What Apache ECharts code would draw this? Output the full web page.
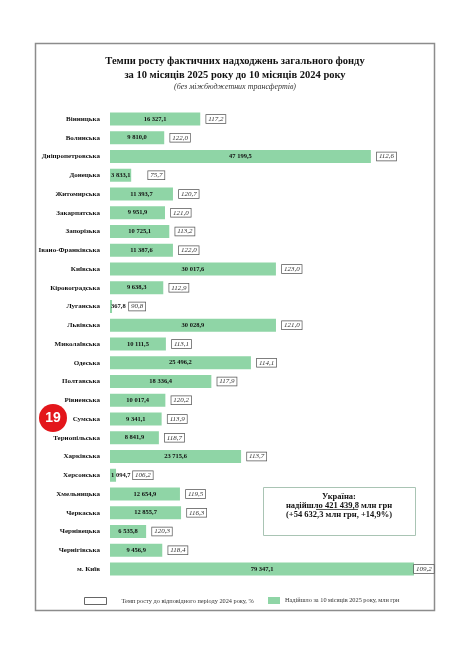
<!DOCTYPE html>
<html>
<head>
<meta charset="utf-8">
<script src="https://cdn.jsdelivr.net/npm/echarts@6/dist/echarts.min.js"></script>
<style>
  html, body {margin: 0; padding: 0; background: #fff;}
  #main {width: 468px; height: 663px;}
</style>
</head>
<body>
<div id="main"></div>
<script>
// data
const regions = [
  'Вінницька', 'Волинська', 'Дніпропетровська', 'Донецька', 'Житомирська',
  'Закарпатська', 'Запорізька', 'Івано-Франківська', 'Київська',
  'Кіровоградська', 'Луганська', 'Львівська', 'Миколаївська', 'Одеська',
  'Полтавська', 'Рівненська', 'Сумська', 'Тернопільська', 'Харківська',
  'Херсонська', 'Хмельницька', 'Черкаська', 'Чернівецька', 'Чернігівська',
  'м. Київ'
];
const income = [
  16327.1, 9810.0, 47199.5, 3833.1, 11393.7, 9951.9, 10725.1, 11387.6,
  30017.6, 9638.3, 367.8, 30028.9, 10111.5, 25496.2, 18336.4, 10017.4,
  9341.1, 8841.9, 23715.6, 1094.7, 12654.9, 12855.7, 6535.8, 9456.9, 79347.1
];
const growth = [
  117.2, 122.0, 112.6, 75.7, 120.7, 121.0, 113.2, 122.0, 123.0, 112.9, 90.8,
  121.0, 113.1, 114.1, 117.9, 120.2, 113.9, 118.7, 113.7, 106.2, 119.5,
  116.3, 120.3, 118.4, 109.2
];
const totalIncome = 421439.8, totalDelta = 54632.3, totalGrowth = 14.9;

const xMax = 55000;   // м. Київ is cut at the edge, like in the original
const smallBar = 4000;
const serif = '"Liberation Serif", "DejaVu Serif", serif';
const green = '#8fd5a6';
const nameRate = 'Темп росту до відповідного періоду 2024 року, %';
const nameIncome = 'Надійшло за 10 місяців 2025 року, млн грн';

function fmtNum(v) {
  let [i, d] = v.toFixed(1).split('.');
  i = i.replace(/\B(?=(\d{3})+(?!\d))/g, ' ');
  return i + ',' + d;
}

// short bars: value text starts at the bar's left edge
const incomeData = income.map(function(v) {
  return v < smallBar ?
      {value: v, label: {position: 'insideLeft', distance: 1}} :
      {value: v};
});

// invisible copy of the bars that carries the growth-rate boxes
const rateData = income.map(function(v) {
  let dist = 6;
  if (v < smallBar) dist = 17;
  if (v > xMax) dist = 0;
  return {value: v, label: {distance: dist}};
});

let chart = echarts.init(document.getElementById('main'));

let option = {
  backgroundColor: '#fff',
  animation: false,
  title: {
    text: 'Темпи росту фактичних надходжень загального фонду\nза 10 місяців 2025 року до 10 місяців 2024 року',
    subtext: '(без міжбюджетних трансфертів)',
    left: 230,
    top: 50,
    textAlign: 'center',
    itemGap: 1,
    textStyle: {
      fontFamily: serif, fontSize: 10.5, fontWeight: 'bold',
      color: '#111', lineHeight: 13.5
    },
    subtextStyle: {
      fontFamily: serif, fontSize: 8, fontStyle: 'italic', color: '#333'
    }
  },
  legend: [
    {
      data: [{
        name: nameRate,
        icon: 'rect',
        itemStyle: {color: '#fff', borderColor: '#666', borderWidth: 1}
      }],
      left: 79, top: 592, itemWidth: 22, itemHeight: 7,
      selectedMode: false,
      textStyle: {fontFamily: serif, fontSize: 6.3, color: '#333',
                  padding: [0, 0, 0, 10]}
    },
    {
      data: [{name: nameIncome, icon: 'rect'}],
      left: 263, top: 592, itemWidth: 12, itemHeight: 7,
      selectedMode: false,
      textStyle: {fontFamily: serif, fontSize: 6.3, color: '#333'}
    }
  ],
  grid: {left: 110, right: 54, top: 109.6, bottom: 84.6},
  xAxis: {type: 'value', min: 0, max: xMax, show: false},
  yAxis: {
    type: 'category',
    data: regions,
    inverse: true,
    axisLine: {show: false},
    axisTick: {show: false},
    axisLabel: {
      margin: 10, fontFamily: serif, fontSize: 7, fontWeight: 'bold',
      color: '#111'
    }
  },
  series: [
    {
      name: nameIncome,
      type: 'bar',
      data: incomeData,
      barWidth: 13,
      itemStyle: {color: green},
      label: {
        show: true, position: 'inside', color: '#111',
        fontFamily: serif, fontSize: 6.5, fontWeight: 'bold',
        formatter: function(p) { return fmtNum(p.value); }
      },
      z: 2
    },
    {
      name: nameRate,
      type: 'bar',
      data: rateData,
      barWidth: 13,
      barGap: '-100%',
      itemStyle: {color: 'rgba(0,0,0,0)'},
      label: {
        show: true, position: 'right',
        fontFamily: serif, fontSize: 7, fontStyle: 'italic', color: '#333',
        backgroundColor: '#fff', borderColor: '#555', borderWidth: 0.7,
        padding: [1, 2, 0, 2],
        formatter: function(p) { return fmtNum(growth[p.dataIndex]); }
      },
      silent: true,
      z: 3
    }
  ],
  graphic: [
    // outer frame
    {
      type: 'rect', left: 33, top: 41, silent: true,
      shape: {width: 399, height: 567},
      style: {fill: 'none', stroke: '#8c8c8c', lineWidth: 1.5}
    },
    // Ukraine total
    {
      type: 'rect', left: 263, top: 487, silent: true,
      shape: {width: 152, height: 48},
      style: {fill: '#fff', stroke: '#a9c4b4', lineWidth: 1}
    },
    {
      type: 'text', silent: true, x: 339, y: 492,
      style: {
        text: 'Україна:\nнадійшло ' + fmtNum(totalIncome) + ' млн грн\n(+' +
            fmtNum(totalDelta) + ' млн грн, +' +
            totalGrowth.toFixed(1).replace('.', ',') + '%)',
        align: 'center', verticalAlign: 'top',
        fontFamily: serif, fontSize: 8.5, fontWeight: 'bold',
        lineHeight: 9, fill: '#111'
      }
    },
    {
      type: 'line', silent: true,
      shape: {x1: 316, y1: 509.5, x2: 358, y2: 509.5},
      style: {stroke: '#111', lineWidth: 0.7}
    },
    // badge
    {
      type: 'circle', silent: true,
      shape: {cx: 53, cy: 418, r: 14},
      style: {fill: '#e3161b'}
    },
    {
      type: 'text', silent: true, x: 53, y: 418,
      style: {
        text: '19', align: 'center', verticalAlign: 'middle',
        fontFamily: '"Liberation Sans", Arial, sans-serif',
        fontSize: 14, fontWeight: 'bold', fill: '#fff'
      }
    }
  ]
};

chart.setOption(option);
</script>
</body>
</html>
